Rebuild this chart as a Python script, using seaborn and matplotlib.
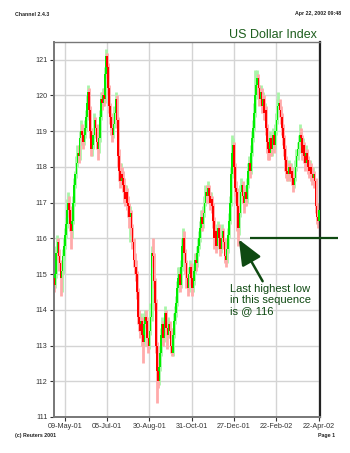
import matplotlib
matplotlib.use("Agg")
import matplotlib.pyplot as plt
import seaborn as sns
import numpy as np

# ---- data ----
tick_labels = ["09-May-01", "05-Jul-01", "30-Aug-01", "31-Oct-01", "27-Dec-01", "22-Feb-02", "22-Apr-02"]
tick_bars = [10, 50, 90, 130, 170, 210, 250]
y_ticks = [111, 112, 113, 114, 115, 116, 117, 118, 119, 120, 121]

first_open = 114.9
closes = [
    114.7, 115.0, 115.6, 115.9, 115.5, 115.3, 114.9, 115.1, 115.5, 115.8,
    116.1, 116.4, 116.8, 117.0, 116.8, 116.4, 116.2, 116.5, 117.0, 117.5,
    117.8, 118.1, 118.4, 118.3, 118.8, 119.0, 118.9, 118.7, 118.9, 119.1,
    119.4, 119.8, 120.1, 119.6, 119.0, 118.5, 118.6, 118.9, 119.3, 119.1,
    118.7, 118.5, 118.8, 119.4, 119.9, 119.8, 120.0, 119.9, 120.6, 121.1,
    120.8, 120.2, 119.7, 119.4, 119.1, 118.9, 119.2, 119.5, 119.9, 119.3,
    118.3, 117.9, 117.6, 117.8, 117.7, 117.5, 117.3, 117.1, 117.3, 117.0,
    116.9, 116.6, 116.7, 116.3, 115.9, 115.4, 115.2, 115.0, 114.5, 113.8,
    113.6, 113.4, 113.7, 113.3, 113.1, 113.6, 113.8, 113.7, 113.2, 113.0,
    113.4, 113.8, 115.6, 115.5, 114.8, 114.2, 113.0, 112.3, 112.0, 112.4,
    112.8, 113.3, 113.6, 113.2, 113.5, 113.9, 113.5, 113.3, 113.6, 113.4,
    113.0, 112.8, 113.3, 113.7, 113.9, 114.2, 114.6, 114.9, 115.0, 114.7,
    115.2, 115.8, 116.0, 115.6, 115.3, 114.9, 114.6, 115.0, 115.2, 114.9,
    114.6, 114.8, 115.1, 115.4, 115.3, 115.6, 115.8, 116.0, 116.3, 116.6,
    116.4, 116.7, 117.0, 117.3, 117.2, 117.4, 117.2, 117.0, 117.1, 116.9,
    116.5, 116.0, 116.2, 115.8, 116.1, 116.3, 116.0, 115.7, 116.0, 116.2,
    115.9, 115.5, 115.4, 115.7, 116.1, 116.5, 117.0, 117.8, 118.4, 118.6,
    118.0, 117.4, 117.3, 116.9, 116.3, 116.7, 117.3, 117.5, 117.2, 117.0,
    117.3, 117.1, 117.5, 117.9, 118.1, 117.9, 118.4, 118.8, 119.1, 119.5,
    120.0, 120.3, 120.5, 120.2, 119.9, 120.1, 119.7, 119.9, 119.5, 119.6,
    119.1, 118.7, 118.5, 118.4, 118.8, 118.5, 118.6, 118.9, 118.6, 119.0,
    119.3, 119.7, 119.8, 119.6, 119.4, 119.1, 118.8, 118.5, 118.2, 117.9,
    117.8, 117.9, 118.0, 117.8, 117.9, 117.7, 117.5, 117.7, 118.0, 118.3,
    118.5, 118.7, 118.9, 118.8, 118.4, 118.6, 118.3, 118.1, 118.4, 118.2,
    118.0, 117.9, 118.0, 117.8, 117.7, 117.8, 117.6, 116.9, 116.6, 116.5,
    116.8,
]
highs = [
    115.0, 115.2, 115.8, 116.1, 116.0, 115.7, 115.4, 115.3, 115.7, 116.0,
    116.3, 116.6, 117.1, 117.3, 117.2, 116.9, 116.5, 116.7, 117.2, 117.7,
    117.9, 118.3, 118.6, 118.6, 119.0, 119.3, 119.2, 119.0, 119.1, 119.3,
    119.6, 120.0, 120.3, 120.2, 119.7, 119.1, 118.8, 119.1, 119.5, 119.4,
    119.2, 118.8, 119.0, 119.6, 120.1, 120.1, 120.2, 120.2, 120.8, 121.3,
    121.2, 120.9, 120.3, 119.8, 119.5, 119.3, 119.4, 119.7, 120.1, 120.0,
    119.4, 118.5, 118.1, 118.1, 118.0, 117.9, 117.7, 117.5, 117.5, 117.4,
    117.2, 117.0, 116.9, 116.8, 116.4, 116.0, 115.6, 115.4, 115.1, 114.6,
    114.0, 113.8, 113.9, 113.8, 113.4, 113.9, 114.0, 114.0, 113.8, 113.4,
    113.6, 114.2, 115.8, 116.0, 115.6, 114.9, 114.3, 113.1, 112.5, 112.6,
    113.0, 113.5, 113.8, 113.7, 113.7, 114.1, 114.0, 113.6, 113.8, 113.7,
    113.5, 113.1, 113.5, 113.9, 114.1, 114.4, 114.8, 115.2, 115.2, 115.1,
    115.4, 116.0, 116.3, 116.2, 115.7, 115.4, 115.0, 115.2, 115.4, 115.3,
    115.0, 115.0, 115.3, 115.6, 115.6, 115.8, 116.0, 116.2, 116.5, 116.8,
    116.8, 116.9, 117.2, 117.5, 117.5, 117.6, 117.5, 117.3, 117.3, 117.2,
    117.0, 116.6, 116.4, 116.3, 116.3, 116.5, 116.4, 116.1, 116.2, 116.4,
    116.3, 116.0, 115.7, 115.9, 116.3, 116.7, 117.2, 118.0, 118.9, 118.8,
    118.7, 118.1, 117.6, 117.4, 117.0, 116.9, 117.5, 117.7, 117.6, 117.3,
    117.5, 117.4, 117.7, 118.1, 118.3, 118.2, 118.6, 119.0, 119.3, 119.8,
    120.7, 120.6, 120.7, 120.6, 120.3, 120.3, 120.2, 120.1, 120.0, 119.8,
    119.7, 119.2, 118.8, 118.7, 119.0, 118.9, 118.8, 119.1, 119.0, 119.2,
    119.5, 119.9, 120.1, 119.9, 119.7, 119.5, 119.2, 118.9, 118.6, 118.3,
    118.1, 118.1, 118.2, 118.1, 118.1, 118.0, 117.8, 117.9, 118.2, 118.5,
    118.7, 118.9, 119.2, 119.1, 118.9, 118.8, 118.7, 118.4, 118.6, 118.5,
    118.3, 118.2, 118.2, 118.1, 118.0, 118.0, 117.9, 117.7, 117.0, 116.8,
    117.0,
]
lows = [
    114.5, 114.6, 114.9, 115.5, 115.4, 115.1, 114.4, 114.5, 115.0, 115.4,
    115.7, 116.0, 116.3, 116.7, 116.6, 116.2, 115.7, 116.0, 116.4, 116.9,
    117.4, 117.7, 118.0, 118.1, 118.2, 118.7, 118.6, 118.5, 118.6, 118.8,
    119.0, 119.3, 119.7, 119.4, 118.8, 118.3, 118.3, 118.5, 118.8, 118.9,
    118.5, 118.2, 118.4, 118.7, 119.3, 119.6, 119.7, 119.7, 119.8, 120.5,
    120.5, 120.0, 119.5, 119.2, 118.9, 118.7, 118.8, 119.1, 119.4, 119.1,
    118.0, 117.6, 117.4, 117.5, 117.5, 117.3, 117.0, 116.9, 117.0, 116.8,
    116.6, 116.3, 115.9, 116.1, 115.7, 115.2, 115.0, 114.8, 114.3, 113.6,
    113.4, 113.2, 113.3, 113.0, 112.5, 113.0, 113.5, 113.5, 113.0, 112.8,
    112.9, 113.3, 113.7, 115.2, 114.6, 114.0, 112.8, 111.4, 111.8, 111.9,
    112.3, 112.7, 113.2, 113.0, 113.1, 113.4, 113.3, 112.9, 113.2, 113.2,
    112.8, 112.7, 112.7, 113.2, 113.6, 113.8, 114.1, 114.5, 114.7, 114.5,
    114.6, 115.1, 115.7, 115.4, 115.0, 114.6, 114.4, 114.5, 114.9, 114.7,
    114.4, 114.5, 114.7, 115.0, 115.1, 115.2, 115.5, 115.7, 115.9, 116.2,
    116.2, 116.3, 116.6, 116.9, 117.0, 117.1, 117.0, 116.8, 116.9, 116.7,
    116.3, 115.7, 115.9, 115.6, 115.7, 116.0, 115.8, 115.5, 115.6, 115.9,
    115.7, 115.3, 115.2, 115.3, 115.6, 116.0, 116.4, 116.9, 117.7, 118.2,
    117.8, 117.2, 117.0, 116.2, 115.8, 116.1, 116.6, 117.2, 117.0, 116.7,
    116.9, 116.9, 117.0, 117.4, 117.8, 117.7, 117.8, 118.3, 118.7, 119.0,
    119.4, 119.9, 120.1, 120.0, 119.7, 119.8, 119.5, 119.6, 119.3, 119.3,
    118.9, 118.4, 118.2, 118.2, 118.3, 118.3, 118.3, 118.5, 118.4, 118.5,
    118.9, 119.2, 119.5, 119.4, 119.2, 118.9, 118.6, 118.3, 117.9, 117.7,
    117.6, 117.6, 117.7, 117.6, 117.6, 117.5, 117.3, 117.4, 117.6, 117.9,
    118.2, 118.4, 118.6, 118.6, 118.2, 118.2, 118.1, 117.9, 118.0, 118.0,
    117.8, 117.7, 117.8, 117.6, 117.5, 117.6, 117.4, 116.7, 116.4, 116.3,
    116.4,
]
opens = [first_open] + closes[:-1]

support_level = 116
note_text = "Last highest low\nin this sequence\nis @ 116"

# ---- style ----
sns.set_theme(style="white")
plt.rcParams["font.family"] = ["Liberation Sans", "DejaVu Sans"]

fig = plt.figure(figsize=(3.5, 4.53), dpi=100)
ax = fig.add_axes([0.153, 0.0795, 0.76, 0.828])

n = len(closes)
x = np.arange(n)
o = np.array(opens)
c = np.array(closes)
h = np.array(highs)
l = np.array(lows)
up = c >= o

UP_BODY, DOWN_BODY = "#00ee00", "#ff0000"
UP_WICK, DOWN_WICK = "#a8f5a8", "#ffaaaa"

ax.vlines(x[up], l[up], h[up], color=UP_WICK, lw=2.0, zorder=2)
ax.vlines(x[~up], l[~up], h[~up], color=DOWN_WICK, lw=2.0, zorder=2)
ax.bar(x[up], (c - o)[up], bottom=o[up], width=1.6, color=UP_BODY, linewidth=0, zorder=3)
ax.bar(x[~up], (c - o)[~up], bottom=o[~up], width=1.6, color=DOWN_BODY, linewidth=0, zorder=3)

ax.set_xlim(-0.6, 250.8)
ax.set_ylim(111, 121.5)
ax.set_yticks(y_ticks)
ax.set_yticklabels([str(v) for v in y_ticks])
ax.set_xticks(tick_bars)
ax.set_xticklabels(tick_labels)
ax.grid(True, color="#d4d4d4", lw=1.0, zorder=0)
ax.set_axisbelow(True)
ax.tick_params(axis="both", labelsize=5.2, colors="#333333", length=3, width=0.8,
               direction="out", pad=1.5, bottom=True, left=True)
for s in ["left", "bottom", "top"]:
    ax.spines[s].set_color("#777777")
ax.spines["left"].set_linewidth(1.4)
ax.spines["bottom"].set_linewidth(1.4)
ax.spines["top"].set_linewidth(1.0)
ax.spines["right"].set_color("#222222")
ax.spines["right"].set_linewidth(1.6)

# annotation
GREEN = "#0f4a12"
ax.plot([185.5, 268], [support_level, support_level], color=GREEN, lw=1.6,
        clip_on=False, zorder=5, solid_capstyle="butt")
ax.annotate("", xy=(174.5, support_level - 0.03), xytext=(197, 114.8),
            arrowprops=dict(arrowstyle="-|>,head_length=1.3,head_width=0.55",
                            color=GREEN, lw=1.8, mutation_scale=12, shrinkA=0, shrinkB=0),
            zorder=6)
ax.text(166, 114.72, note_text, fontsize=8, color=GREEN, ha="left", va="top",
        linespacing=1.12, zorder=6)

# header / footer texts
fig.text(229 / 350, 1 - 38 / 453, "US Dollar Index", color="#1d5e1d", fontsize=9,
         ha="left", va="baseline")
fig.text(15 / 350, 1 - 14 / 453, "Channel 2.4.3", fontsize=3.8, weight="bold",
         color="#222222", ha="left", va="center")
fig.text(341 / 350, 1 - 14 / 453, "Apr 22, 2002 09:48", fontsize=3.8, weight="bold",
         color="#222222", ha="right", va="center")
fig.text(15 / 350, 1 - 436 / 453, "(c) Reuters 2001", fontsize=3.8, weight="bold",
         color="#222222", ha="left", va="center")
fig.text(335 / 350, 1 - 436 / 453, "Page 1", fontsize=3.8, weight="bold",
         color="#222222", ha="right", va="center")

fig.savefig("out.png", dpi=100, facecolor="white")
